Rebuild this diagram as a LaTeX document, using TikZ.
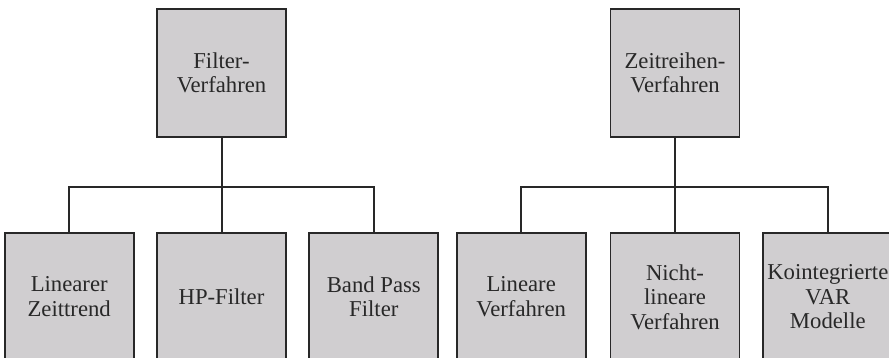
\documentclass[tikz,border=0pt]{standalone}
\usepackage{fontspec}
\setmainfont{Liberation Serif}
\usepackage{xcolor}
\usetikzlibrary{positioning}

\definecolor{boxfill}{RGB}{208,206,208}
\definecolor{boxline}{RGB}{40,40,40}

\begin{document}
\begin{tikzpicture}[
    x=0.5pt, y=-0.5pt,
    node distance=47pt and 10.75pt,
    method/.style={rectangle, draw=boxline, fill=boxfill, line width=0.9pt, minimum width=64.5pt, minimum height=64pt, inner sep=1pt, align=center, text=boxline, font=\fontsize{11.35}{12.25}\selectfont},
    conn/.style={draw=boxline, line width=1pt}
]
\useasboundingbox (0,0) rectangle (889,358);

% upper level
\node[method] (Filter) at (221.5,73) {Filter-\\Verfahren};
\node[method] (Zeit) at (675,73) {Zeitreihen-\\Verfahren};

% lower level
\node[method, below=of Filter, anchor=north] (HP) {HP-Filter};
\node[method, left=of HP] (LinZ) {Linearer\\Zeittrend};
\node[method, right=of HP] (Band) {Band Pass\\Filter};

\node[method, below=of Zeit, anchor=north] (NichtLin) {Nicht-\\lineare\\Verfahren};
\node[method, left=11.5pt of NichtLin] (LinV) {Lineare\\Verfahren};
\node[method, right=11pt of NichtLin] (Koint) {Kointegrierte\\VAR\\Modelle};

% connectors
\draw[conn] (Filter.south) -- ++(0,-24.5pt) -| (LinZ.north);
\draw[conn] (Filter.south) -- ++(0,-24.5pt) -| (Band.north);
\draw[conn] (Filter.south) -- (HP.north);
\draw[conn] (Zeit.south) -- ++(0,-24.5pt) -| (LinV.north);
\draw[conn] (Zeit.south) -- ++(0,-24.5pt) -| (Koint.north);
\draw[conn] (Zeit.south) -- (NichtLin.north);

\end{tikzpicture}
\end{document}
